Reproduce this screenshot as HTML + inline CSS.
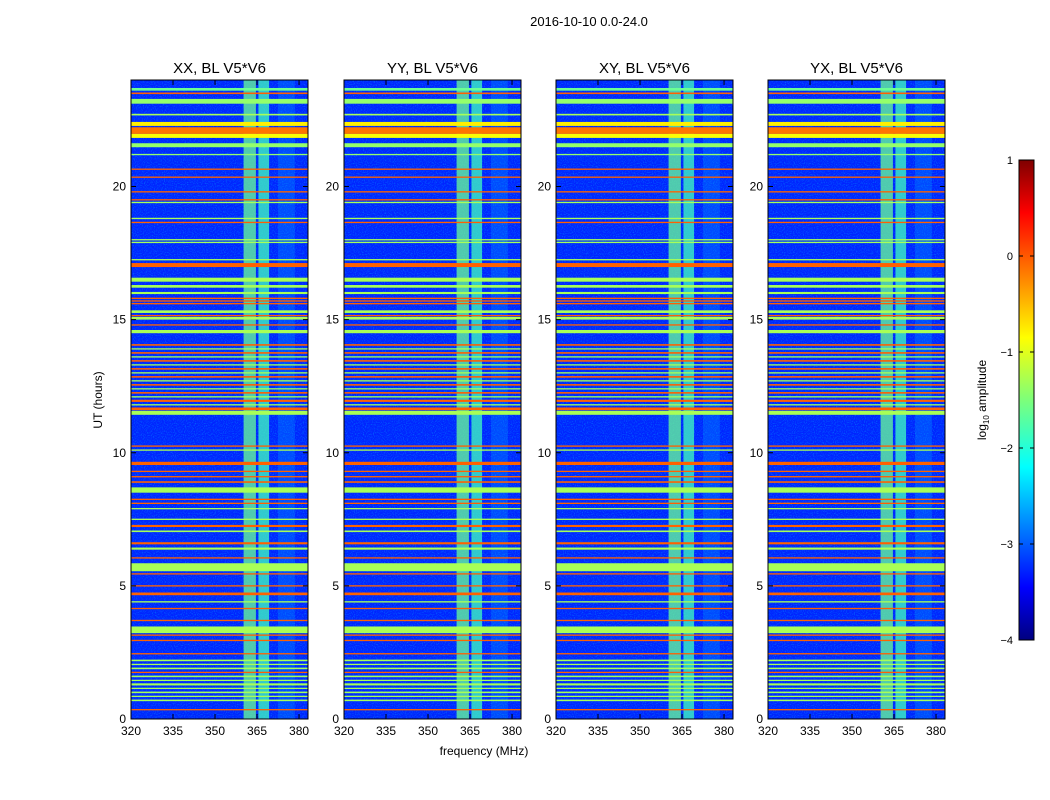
<!DOCTYPE html>
<html><head><meta charset="utf-8"><style>
body{margin:0;background:#fff;}
svg{display:block;font-family:"Liberation Sans",sans-serif;}
</style></head><body>
<svg id="fig" width="1050" height="800" viewBox="0 0 1050 800">
<defs>
<filter id="speck" x="0" y="0" width="100%" height="100%">
<feTurbulence type="fractalNoise" baseFrequency="0.9" numOctaves="1" seed="3"/>
<feColorMatrix type="matrix" values="0 0 0 0 0  0 0 0 1.4 -0.55  0 0 0 0 1  0 0 0 1.6 -0.6"/>
</filter>
<linearGradient id="jet" x1="0" y1="1" x2="0" y2="0">
<stop offset="0" stop-color="#00007f"/><stop offset="0.11" stop-color="#0000ff"/>
<stop offset="0.36" stop-color="#00ffff"/><stop offset="0.5" stop-color="#7dff7a"/>
<stop offset="0.63" stop-color="#ffff00"/><stop offset="0.89" stop-color="#ff0000"/>
<stop offset="1" stop-color="#7f0000"/></linearGradient>
</defs>
<text x="589" y="26" font-size="13" text-anchor="middle">2016-10-10 0.0-24.0</text>
<text x="484" y="755" font-size="12" text-anchor="middle">frequency (MHz)</text>
<text transform="translate(102,400) rotate(-90)" font-size="12" text-anchor="middle">UT (hours)</text>
<g id="panels"></g>
<g>
<rect x="1019" y="160" width="15" height="480" fill="url(#jet)" stroke="#000"/>
<g id="cbticks"></g>
<text transform="translate(986,400) rotate(-90)" font-size="12" text-anchor="middle">log<tspan font-size="8" dy="3">10</tspan><tspan dy="-3"> amplitude</tspan></text>
</g>
</svg>
<script>
const panelTitles=["XX, BL V5*V6","YY, BL V5*V6","XY, BL V5*V6","YX, BL V5*V6"];
const xTicks=[320,335,350,365,380];
const yTicks=[0,5,10,15,20];
const cbTicks=[1,0,-1,-2,-3,-4];
// stripes: hour (center), thickness (hours), log10 amplitude
const stripeHour=[23.65,23.5,23.2,22.7,22.35,22.1,21.9,21.55,21.2,20.65,20.35,19.8,19.5,19.4,18.8,18.65,18.0,17.9,17.25,17.05,16.5,16.25,16.0,15.8,15.7,15.6,15.3,15.15,15.05,14.8,14.55,
14.05,13.9,13.75,13.6,13.45,13.3,13.15,13.0,12.85,12.7,12.55,12.4,12.25,12.1,11.95,11.8,11.65,11.5,10.25,10.1,9.6,9.3,9.1,8.9,8.6,8.25,8.1,7.9,7.5,7.25,7.05,6.6,6.4,6.05,5.7,5.45,5.0,4.7,4.4,4.15,3.7,3.35,3.15,2.95,2.45,
2.2,2.05,1.9,1.75,1.6,1.45,1.3,1.15,1.0,0.85,0.7,0.35];
const stripeWidth=[0.1,0.06,0.18,0.06,0.15,0.25,0.15,0.15,0.05,0.05,0.05,0.05,0.05,0.05,0.05,0.05,0.05,0.05,0.05,0.15,0.15,0.1,0.08,0.05,0.05,0.05,0.1,0.05,0.1,0.05,0.12,
0.06,0.05,0.06,0.05,0.06,0.05,0.06,0.05,0.06,0.05,0.06,0.05,0.06,0.05,0.08,0.05,0.1,0.15,0.05,0.05,0.12,0.05,0.05,0.06,0.2,0.05,0.05,0.05,0.05,0.08,0.06,0.08,0.08,0.05,0.3,0.05,0.05,0.1,0.05,0.05,0.05,0.25,0.05,0.05,0.05,
0.06,0.05,0.06,0.05,0.06,0.05,0.08,0.05,0.06,0.05,0.06,0.05];
const stripeLevel=[-1.6,-0.1,-1.4,-1.3,-0.8,-0.2,-0.9,-1.4,-1.4,-0.1,-0.1,-0.1,-0.1,-1.3,-1.3,-0.1,-1.3,-1.3,-1.3,-0.1,-1.3,-1.3,-1.3,-0.1,-0.1,-0.1,-1.3,-0.1,-1.3,-0.1,-1.3,
-0.1,-1.3,-0.1,-1.3,-0.1,-1.3,-0.1,-1.3,-0.1,-1.3,-0.1,-1.3,-0.1,-1.3,-0.1,-1.3,-0.1,-1.3,-0.1,-1.3,-0.1,-0.1,-0.1,-0.1,-1.3,-0.1,-0.1,-1.3,-1.3,-0.1,-1.3,-0.1,-1.3,-0.1,-1.3,-0.1,-0.1,-0.1,-1.3,-0.1,-0.1,-1.3,-0.1,-0.1,-0.1,
-1.3,-1.3,-1.3,-0.1,-1.3,-1.3,-1.3,-1.3,-1.3,-1.3,-1.3,-0.1];
// vertical RFI bands: start MHz, end MHz, level
const bandStart=[360.2,365.5,372.5];
const bandEnd=[364.6,369.3,378.5];
const bandLevel=[-1.6,-1.8,-2.6];

const NS="http://www.w3.org/2000/svg";
function jet(v){let t=(v+4)/5;t=Math.max(0,Math.min(1,t));
 const r=Math.max(0,Math.min(1,1.5-Math.abs(4*t-3))),g=Math.max(0,Math.min(1,1.5-Math.abs(4*t-2))),b=Math.max(0,Math.min(1,1.5-Math.abs(4*t-1)));
 return `rgb(${Math.round(r*255)},${Math.round(g*255)},${Math.round(b*255)})`;}
function mk(tag,attrs,parent){const e=document.createElementNS(NS,tag);for(const k in attrs)e.setAttribute(k,attrs[k]);parent.appendChild(e);return e;}
const panelX=[131,344,556,768],PW=177,Y0=80,Y1=719;
const fMin=320,fMax=383.2;
const panels=document.getElementById('panels');
panelX.forEach((px,pi)=>{
 const xs=f=>px+(f-fMin)/(fMax-fMin)*PW;
 const ys=h=>Y1-h/24*(Y1-Y0);
 const g=mk('g',{},panels);
 
 
 const bg=mk('rect',{x:px,y:Y0,width:PW,height:Y1-Y0,fill:jet(-3.2)},g);
 
 
 const nz=mk('rect',{x:px,y:Y0,width:PW,height:Y1-Y0,filter:'url(#speck)',opacity:0.6},g);
 
 
 bandStart.forEach((s,i)=>{
  const r=mk('rect',{x:xs(s),y:Y0,width:xs(bandEnd[i])-xs(s),height:Y1-Y0,fill:jet(bandLevel[i]),opacity:i==2?0.3:0.75},g);
  
  
 });
 stripeHour.forEach((h,i)=>{
  const y=ys(h+stripeWidth[i]/2),hh=Math.max(1,stripeWidth[i]/24*(Y1-Y0));
  const r=mk('rect',{x:px,y:y,width:PW,height:hh,fill:jet(stripeLevel[i])},g);
  
  
 });
 const fr=mk('rect',{x:px,y:Y0,width:PW,height:Y1-Y0,fill:'none',stroke:'#000','stroke-width':1},g);
 
 
 const t=mk('text',{x:px+PW/2,y:73,'font-size':15,'text-anchor':'middle'},g);t.textContent=panelTitles[pi];
 
 
 xTicks.forEach(v=>{const x=xs(v);
  mk('line',{x1:x,x2:x,y1:Y1,y2:Y1-5,stroke:'#000'},g);mk('line',{x1:x,x2:x,y1:Y0,y2:Y0+5,stroke:'#000'},g);
  const l=mk('text',{x:x,y:Y1+16,'font-size':12,'text-anchor':'middle'},g);l.textContent=v;
  
  });
 yTicks.forEach(v=>{const y=ys(v);
  mk('line',{x1:px,x2:px+5,y1:y,y2:y,stroke:'#000'},g);mk('line',{x1:px+PW,x2:px+PW-5,y1:y,y2:y,stroke:'#000'},g);
  const l=mk('text',{x:px-5,y:y+4,'font-size':12,'text-anchor':'end'},g);l.textContent=v;
  
  });
});
const cb=document.getElementById('cbticks');
cbTicks.forEach(v=>{const y=640-(v+4)/5*480;
 mk('line',{x1:1019,x2:1023,y1:y,y2:y,stroke:'#000'},cb);mk('line',{x1:1034,x2:1030,y1:y,y2:y,stroke:'#000'},cb);
 const l=mk('text',{x:1013,y:y+4,'font-size':11,'text-anchor':'end'},cb);l.textContent=v<0?'\u2212'+(-v):v;
 
 });
</script>
</body></html>
